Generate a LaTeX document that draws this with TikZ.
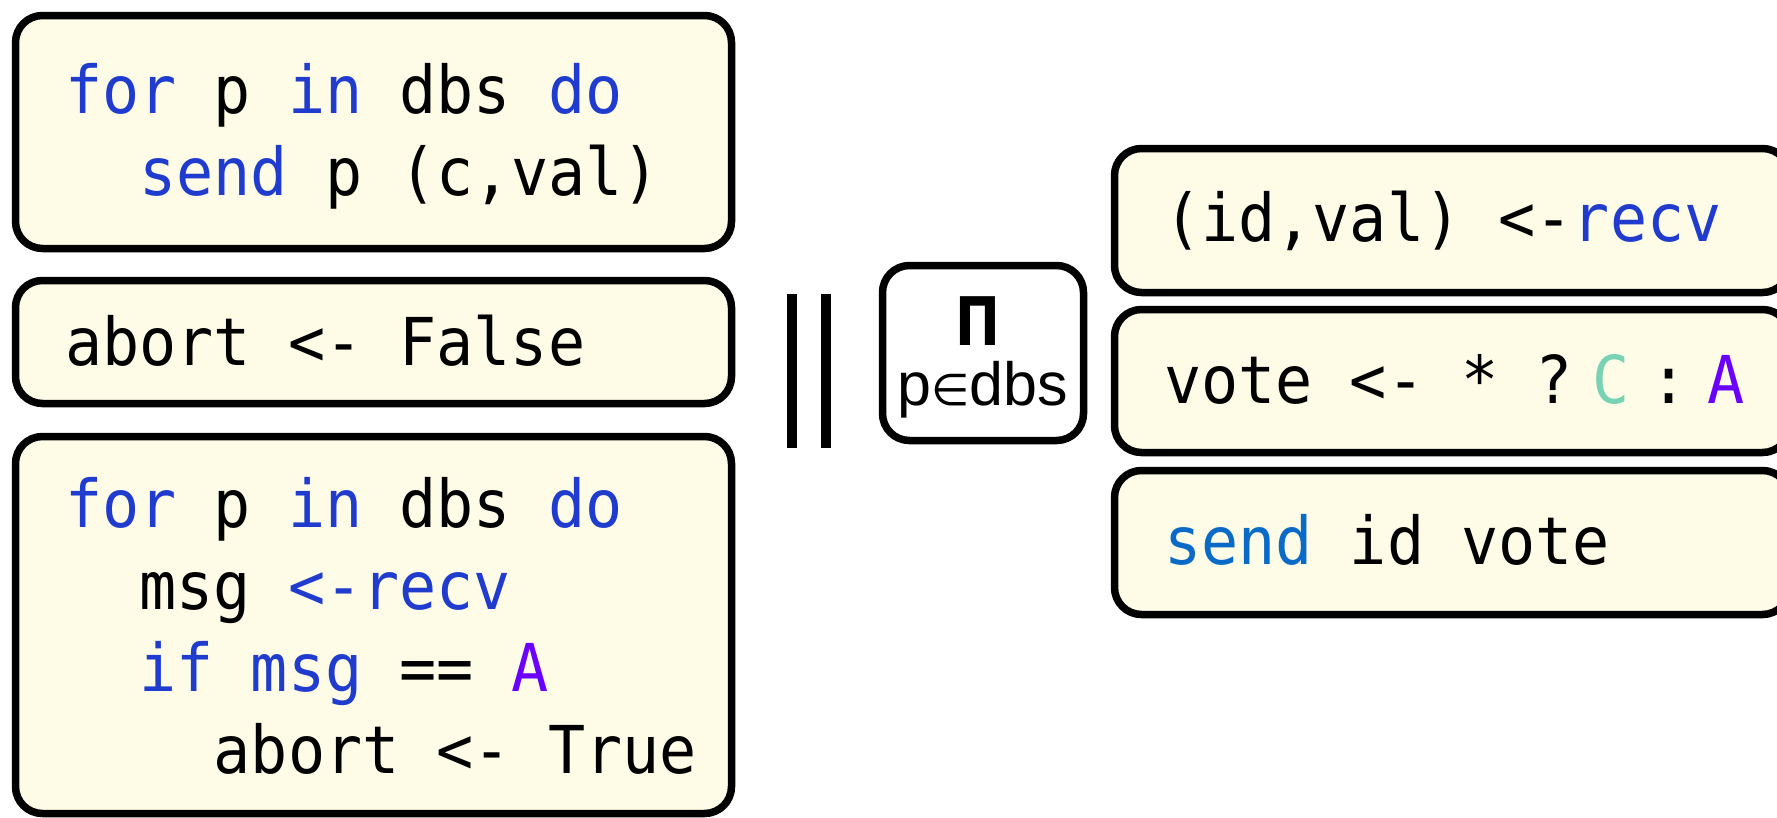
\documentclass[tikz,border=0pt]{standalone}
\usepackage{fontspec}
\newfontfamily\codefont[FakeStretch=0.935]{DejaVu Sans Mono}
\newfontfamily\labelfont{Liberation Sans}
\newfontfamily\symbfont{DejaVu Sans}
\newfontfamily\prodfont[FakeStretch=0.8]{DejaVu Sans Bold}
\usetikzlibrary{positioning}

\definecolor{kwblue}{RGB}{31,60,207}
\definecolor{sendblue}{RGB}{10,106,200}
\definecolor{commitgreen}{RGB}{120,210,180}
\definecolor{abortpurple}{RGB}{106,0,255}
\definecolor{boxfill}{RGB}{254,252,230}

\newcommand{\kw}[1]{\textcolor{kwblue}{#1}}

\begin{document}
\begin{tikzpicture}[x=1pt, y=-1pt,
    codebox/.style={draw, line width=7.5pt, rounded corners=27pt, fill=boxfill, inner sep=0pt, outer sep=0pt},
    code/.style={anchor=base west, inner sep=0pt, align=left, font=\codefont\fontsize{66pt}{82pt}\selectfont},
    bar/.style={line width=10pt},
]
\useasboundingbox (0,0) rectangle (1777,817);

% Coordinator: three blocks stacked on the left
\node[codebox, anchor=north west, minimum width=716pt, minimum height=233pt] (prepare) at (15.5,15.5) {};
\node[codebox, minimum width=716pt, minimum height=123pt, below=32pt of prepare] (init) {};
\node[codebox, minimum width=716pt, minimum height=377pt, below=33pt of init] (collect) {};

% (base of a multi-line node = its last line)
\node[code] (preparetext) at (65,195) {\kw{for} p \kw{in} dbs \kw{do}\\\hphantom{xx}\kw{send} p (c,val)};
\node[code] (inittext) at (65,365) {abort <- False};
\node[code] (collecttext) at (65,773) {\kw{for} p \kw{in} dbs \kw{do}\\
  \hphantom{xx}msg \kw{<-recv}\\
  \hphantom{xx}\kw{if msg} == \textcolor{abortpurple}{A}\\
  \hphantom{xxxx}abort <- True};

% Parallel composition bars
\draw[bar] (792,294) -- (792,448);
\draw[bar] (826,294) -- (826,448);

% Product over participants
\node[draw, line width=7.5pt, rounded corners=27pt, inner sep=0pt, outer sep=0pt, anchor=north west,
      minimum width=201pt, minimum height=175pt] (pibox) at (882.5,265.5) {};
\node[anchor=base, inner sep=0pt, font=\prodfont\fontsize{67pt}{67pt}\selectfont] (prodsym) at (978,345) {Π};
\node[anchor=base, inner sep=0pt, font=\labelfont\fontsize{61pt}{61pt}\selectfont] (prodrange) at (983,405) {p{\symbfont\fontsize{44pt}{44pt}\selectfont ∈}dbs};

% Participant: three blocks stacked on the right
\node[codebox, anchor=north west, minimum width=675pt, minimum height=144pt] (recv) at (1114.5,148.5) {};
\node[codebox, minimum width=675pt, minimum height=143pt, below=17pt of recv] (vote) {};
\node[codebox, minimum width=675pt, minimum height=144pt, below=18pt of vote] (reply) {};

\node[code] (recvtext) at (1164,241) {(id,val) <-\kw{recv}};
\node[code] (votetext) at (1164,403) {vote <- * ?\hspace{20pt}\textcolor{commitgreen}{C}\hspace{20pt}:\hspace{20pt}\textcolor{abortpurple}{A}};
\node[code] (replytext) at (1164,564) {\textcolor{sendblue}{send} id vote};

\end{tikzpicture}
\end{document}
